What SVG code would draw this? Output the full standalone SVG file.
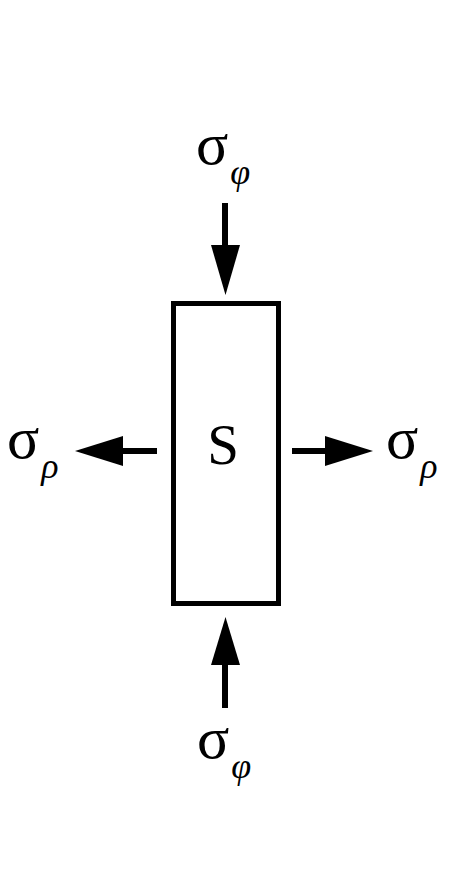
<svg xmlns="http://www.w3.org/2000/svg" width="452" height="890" viewBox="0 0 452 890">
<style>
text{font-family:'Liberation Serif','Times New Roman',serif;fill:#000}
.sig{font-size:60px}
.sub{font-size:36px;font-style:italic}
.shaft{stroke:#000;stroke-width:6;fill:none}
.head{fill:#000}
</style>
<rect width="452" height="890" fill="#fff"/>
<g id="box">
<rect x="173.5" y="303.5" width="105" height="300" fill="#fff" stroke="#000" stroke-width="5"/>
<text x="223" y="464" font-size="57" text-anchor="middle">S</text>
</g>
<g id="connectors">
<line class="shaft" x1="225" y1="203" x2="225" y2="250"/>
<polygon class="head" points="211,245 240,245 225.5,295"/>
<line class="shaft" x1="225" y1="708" x2="225" y2="660"/>
<polygon class="head" points="211,665 240,665 225.5,617"/>
<line class="shaft" x1="157" y1="451" x2="118" y2="451"/>
<polygon class="head" points="123,436 123,466 75,451"/>
<line class="shaft" x1="292" y1="451" x2="330" y2="451"/>
<polygon class="head" points="325,436 325,466 373,451"/>
</g>
<g id="label-top">
<text x="196" y="164"><tspan class="sig">σ</tspan><tspan class="sub" dx="2" dy="20">φ</tspan></text>
</g>
<g id="label-left">
<text x="7" y="458"><tspan class="sig">σ</tspan><tspan class="sub" dx="2" dy="20">ρ</tspan></text>
</g>
<g id="label-right">
<text x="386" y="458"><tspan class="sig">σ</tspan><tspan class="sub" dx="2" dy="20">ρ</tspan></text>
</g>
<g id="label-bottom">
<text x="197" y="758"><tspan class="sig">σ</tspan><tspan class="sub" dx="2" dy="20">φ</tspan></text>
</g>
</svg>
